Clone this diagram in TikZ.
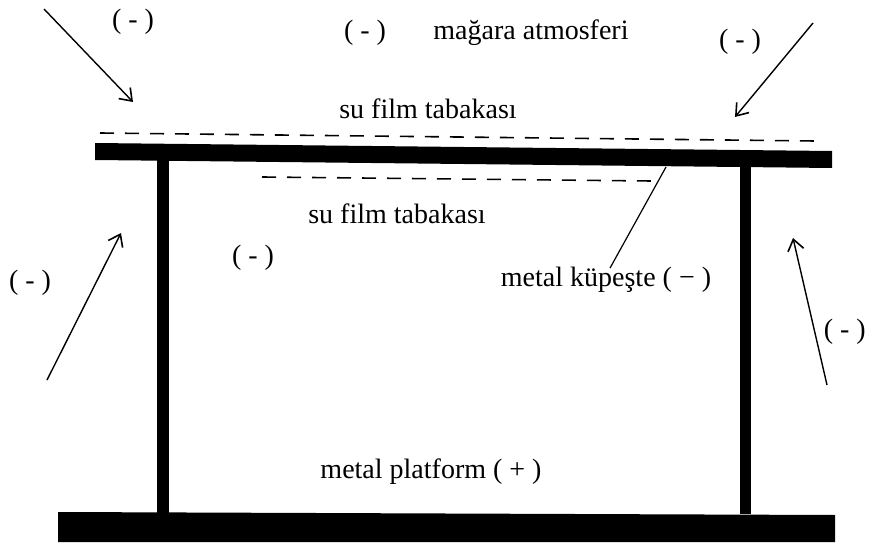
\documentclass[tikz,border=0pt]{standalone}
\usepackage{fontspec}
\setmainfont{Liberation Serif}
\usetikzlibrary{arrows.meta}
\begin{document}
\begin{tikzpicture}[x=1pt,y=-1pt,
  lbl/.style={font=\fontsize{28}{31}\selectfont, inner sep=2pt},
  film/.style={line width=1.6pt, dash pattern=on 14pt off 11pt},
  metal/.style={fill=black, draw=none},
  charge/.style={line width=1.4pt, -{Straight Barb[length=11pt,width=16pt,line width=1.6pt]}},
  leader/.style={line width=1.2pt}]
\useasboundingbox (0,0) rectangle (869,545);

% metal railing: top bar, two posts, platform
\fill[metal] (95,143) -- (832,151) -- (832,168) -- (95,160) -- cycle;
\fill[metal] (157,158) rectangle (169,514);
\fill[metal] (740,164) rectangle (751,514);
\fill[metal] (58,512) -- (835,515) -- (835,542) -- (58,542) -- cycle;

% water film lines
\coordinate (fa) at (100,133);
\coordinate (fb) at (815,141);
\draw[film] (fa) -- (fb);
\coordinate (ga) at (262,177);
\coordinate (gb) at (652,181);
\draw[film] (ga) -- (gb);

% labels
\node[lbl] (chTL) at (133,22) {( - )};
\node[lbl] (chTM) at (365,33) {( - )};
\node[lbl] (atm) at (531,33) {mağara atmosferi};
\node[lbl] (chTR) at (740,42) {( - )};
\node[lbl] (filmTop) at (428,109) {su film tabakası};
\node[lbl] (filmIn) at (397,214) {su film tabakası};
\node[lbl] (chL) at (30,283) {( - )};
\node[lbl] (chIn) at (253,258) {( - )};
\node[lbl] (kup) at (606,280) {metal küpeşte ( − )};
\node[lbl, anchor=east] (chR) at (868,332) {( - )};
\node[lbl] (plat) at (431,472) {metal platform ( + )};

% charge arrows
\coordinate (a1s) at (44,9);   \coordinate (a1e) at (133,102);
\coordinate (a2s) at (813,23); \coordinate (a2e) at (735,117);
\coordinate (a3s) at (47,380); \coordinate (a3e) at (121,233);
\coordinate (a4s) at (827,385);\coordinate (a4e) at (793,238);
\draw[charge] (a1s) -- (a1e);
\draw[charge] (a2s) -- (a2e);
\draw[charge] (a3s) -- (a3e);
\draw[charge] (a4s) -- (a4e);

% leader from the top bar to its label
\coordinate (kb) at (666,167);
\draw[leader] (kb) -- ([xshift=4pt,yshift=-3pt]kup.north);
\end{tikzpicture}
\end{document}
